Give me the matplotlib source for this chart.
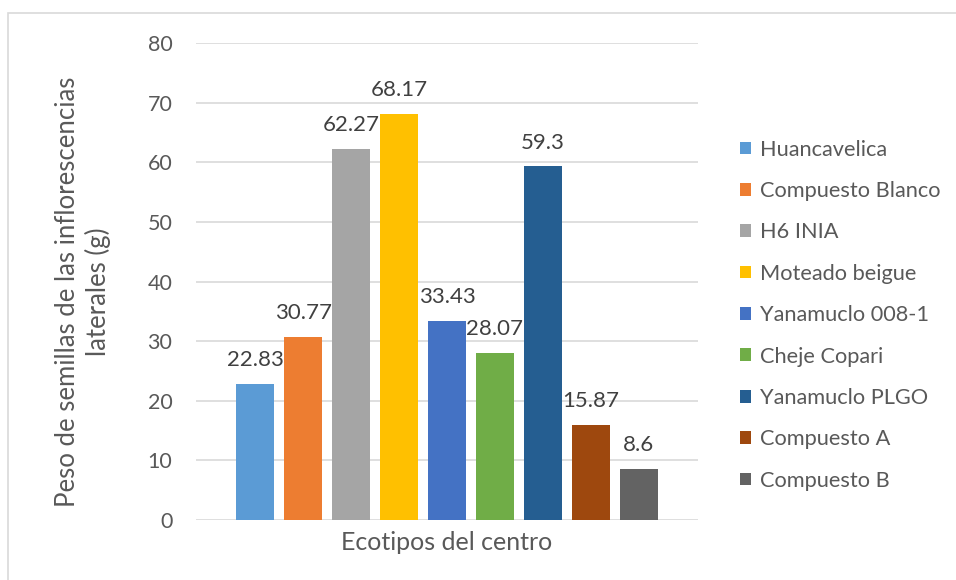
import matplotlib
matplotlib.use("Agg")
import matplotlib.pyplot as plt
from matplotlib.patches import Rectangle, Patch
import numpy as np

# Data
ecotipos = ["Huancavelica", "Compuesto Blanco", "H6 INIA", "Moteado beigue",
            "Yanamuclo 008-1", "Cheje Copari", "Yanamuclo PLGO",
            "Compuesto A", "Compuesto B"]
peso = [22.83, 30.77, 62.27, 68.17, 33.43, 28.07, 59.3, 15.87, 8.6]
colores = ["#5B9BD5", "#ED7D31", "#A5A5A5", "#FFC000", "#4472C4",
           "#70AD47", "#255E91", "#9E480E", "#636363"]
categoria = "Ecotipos del centro"
y_ticks = [0, 10, 20, 30, 40, 50, 60, 70, 80]

plt.rcParams["font.family"] = ["Lato", "DejaVu Sans"]
txt = "#595959"

fig = plt.figure(figsize=(9.56, 5.8), dpi=100)
fig.patches.append(Rectangle((8 / 956, -0.05), 1.1, 1 - 13 / 580 + 0.05,
                             transform=fig.transFigure, fill=False,
                             edgecolor="#d9d9d9", linewidth=1.2))

ax = fig.add_axes([196 / 956, 60 / 580, 502 / 956, 477 / 580])

n = len(peso)
pitch = 0.0956
width = 0.0757
xs = (np.arange(n) - (n - 1) / 2) * pitch
bars = ax.bar(xs, peso, width=width, color=colores, zorder=3)
for b, v in zip(bars, peso):
    ax.annotate(f"{v:g}", (b.get_x() + b.get_width() / 2, v),
                xytext=(0, 10), textcoords="offset points",
                ha="center", va="bottom", fontsize=16, color="#404040")

ax.set_xlim(-0.5, 0.5)
ax.set_ylim(0, 80)
ax.set_yticks(y_ticks)
ax.set_xticks([0])
ax.set_xticklabels([categoria], fontsize=18, color=txt)
ax.tick_params(axis="both", length=0, labelcolor=txt)
ax.tick_params(axis="y", pad=17, labelsize=15.5)
ax.tick_params(axis="x", pad=8)
ax.grid(axis="y", color="#d9d9d9", linewidth=1.2, zorder=0)
for s in ax.spines.values():
    s.set_visible(False)

fig.text(83 / 956, 1 - 292 / 580,
         "Peso de semillas de las inflorescencias\nlaterales (g)",
         rotation=90, ha="center", va="center", fontsize=18.5, color=txt,
         linespacing=1.2)

handles = [Patch(facecolor=c, edgecolor="none") for c in colores]
fig.legend(handles, ecotipos, loc="upper left",
           bbox_to_anchor=(731 / 956, 1 - 131 / 580), frameon=False,
           fontsize=15.7, labelcolor=txt, handlelength=0.52, handleheight=0.52,
           handletextpad=0.42, labelspacing=0.98, borderaxespad=0)

fig.savefig("out.png", dpi=100)
